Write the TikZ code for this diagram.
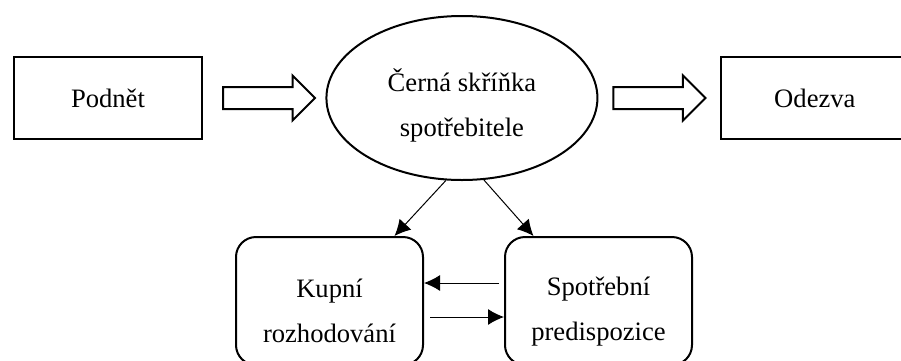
\documentclass[tikz,border=0pt]{standalone}
\usepackage{fontspec}
\setmainfont{Liberation Serif}
\usepackage{tikz}
\usetikzlibrary{shapes.geometric, shapes.arrows, arrows.meta, positioning, calc}
\newcommand{\lowline}[1]{\rule{0pt}{#1}}
\tikzstyle{endbox} = [rectangle, draw, line width=1pt, minimum width=94pt, minimum height=41pt,
  text centered, inner sep=0pt]
\tikzstyle{blackbox} = [ellipse, draw, line width=1pt, minimum width=135.5pt, minimum height=82pt,
  align=center, inner sep=0pt]
\tikzstyle{innerbox} = [rectangle, rounded corners=10pt, draw, line width=1pt, minimum width=93.5pt,
  minimum height=64pt, align=center, inner sep=0pt]
\tikzstyle{bigarrow} = [single arrow, draw, line width=1pt, minimum height=46pt, inner xsep=0pt,
  inner ysep=5pt, single arrow head extend=5.75pt, single arrow tip angle=90]
\tikzstyle{arrow} = [line width=0.5pt, -{Latex[length=8pt, width=8pt]}]

\begin{document}
\begin{tikzpicture}[x=0.5pt, y=-0.5pt, font=\fontsize{13.3pt}{22.5pt}\selectfont]
  \clip (0,0) rectangle (901,360);

  % Top row
  \node (podnet) [endbox] at (108,98) {Podnět};
  \node (arr1) [bigarrow, right=9.5pt of podnet] {};
  \node (cerna) [blackbox, right=4.5pt of arr1] {\lowline{19pt}Černá skříňka\\spotřebitele};
  \node (arr2) [bigarrow, right=7pt of cerna] {};
  \node (odezva) [endbox, right=6.5pt of arr2] {Odezva};

  % Bottom row
  \node (kupni) [innerbox] at (329.5,301) {\lowline{19.5pt}Kupní\\rozhodování};
  \node (predisp) [innerbox, right=40pt of kupni] {\lowline{19.5pt}Spotřební\\predispozice};

  \draw[arrow] (cerna.259) -- ($(kupni.north)+(65,0)$);
  \draw[arrow] (cerna.285) -- ($(predisp.north)+(-65,0)$);
  \draw[arrow] ($(predisp.west)+(-5,-18)$) -- ($(kupni.east)+(0,-18)$);
  \draw[arrow] ($(kupni.east)+(6,16)$) -- ($(predisp.west)+(0,16)$);
\end{tikzpicture}
\end{document}
